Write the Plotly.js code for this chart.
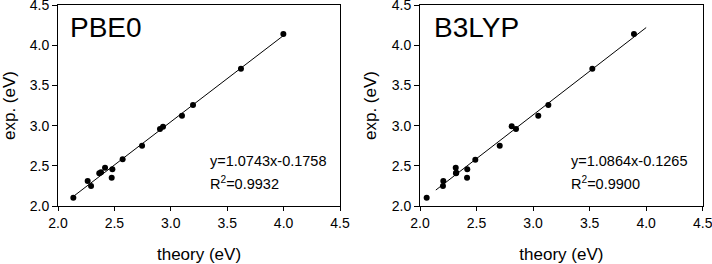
<!DOCTYPE html>
<html>
<head>
<meta charset="utf-8">
<script src="https://cdn.plot.ly/plotly-3.0.1.min.js"></script>
<style>html,body{margin:0;padding:0;background:#fff}#chart{width:712px;height:264px}</style>
</head>
<body>
<div id="chart"></div>
<script>
// Data
const expValues = [2.103, 2.311, 2.249, 2.406, 2.419, 2.476, 2.456, 2.352, 2.581, 2.750, 2.958, 2.986, 3.123, 3.256, 3.708, 4.139];
const pbe0Theory = [2.136, 2.263, 2.293, 2.366, 2.381, 2.417, 2.482, 2.476, 2.573, 2.745, 2.904, 2.931, 3.099, 3.197, 3.622, 3.998];
const b3lypExp = [2.103, 2.249, 2.311, 2.476, 2.414, 2.406, 2.456, 2.352, 2.576, 2.750, 2.991, 2.958, 3.123, 3.256, 3.708, 4.139];
const b3lypTheory = [2.059, 2.203, 2.206, 2.316, 2.321, 2.318, 2.418, 2.416, 2.489, 2.705, 2.811, 2.849, 3.046, 3.135, 3.524, 3.892];

const panelNames = ["PBE0", "B3LYP"];
const fitSlope = [1.0743, 1.0864];
const fitIntercept = [-0.1758, -0.1265];
const fitR2 = ["0.9932", "0.9900"];
const fitRange = [[2.136, 4.0], [2.14, 4.0]];
const tickVals = [2.0, 2.5, 3.0, 3.5, 4.0, 4.5];
const tickText = ["2.0", "2.5", "3.0", "3.5", "4.0", "4.5"];

const FONT = "Liberation Sans, Arial, sans-serif";
const theoryArr = [pbe0Theory, b3lypTheory];
const expArr = [expValues, b3lypExp];

const traces = [];
const annotations = [];
for (let i = 0; i < 2; i++) {
  const xa = i === 0 ? "x" : "x2";
  const ya = i === 0 ? "y" : "y2";
  const lx = fitRange[i];
  const ly = lx.map(v => fitSlope[i] * v + fitIntercept[i]);
  traces.push({x: lx, y: ly, xaxis: xa, yaxis: ya, mode: "lines", type: "scatter",
    line: {color: "#000", width: 1}, hoverinfo: "skip", showlegend: false});
  traces.push({x: theoryArr[i], y: expArr[i], xaxis: xa, yaxis: ya, mode: "markers", type: "scatter",
    marker: {color: "#000", size: 6}, showlegend: false});
  annotations.push({xref: xa, yref: ya, x: i === 0 ? 2.086 : 2.103, y: 4.22, xanchor: "left", yanchor: "middle",
    text: panelNames[i], showarrow: false, font: {family: FONT, size: 28, color: "#000"}});
  const sign = fitIntercept[i] < 0 ? "-" : "+";
  annotations.push({xref: xa, yref: ya, x: i === 0 ? 3.327 : 3.317, y: 2.56, xanchor: "left", yanchor: "middle",
    text: "y=" + fitSlope[i].toFixed(4) + "x" + sign + Math.abs(fitIntercept[i]).toFixed(4), showarrow: false,
    font: {family: FONT, size: 14.5, color: "#000"}});
  annotations.push({xref: xa, yref: ya, x: i === 0 ? 3.327 : 3.317, y: 2.28, xanchor: "left", yanchor: "middle",
    text: "R<sup>2</sup>=" + fitR2[i], showarrow: false,
    font: {family: FONT, size: 14.5, color: "#000"}});
}

function xAxis(domain, anchor) {
  return {domain: domain, anchor: anchor, range: [2.0, 4.5], tickvals: tickVals, ticktext: tickText,
    showgrid: false, zeroline: false, showline: true, linecolor: "#000", linewidth: 1, mirror: true,
    ticks: "outside", ticklen: 4, tickcolor: "#000", tickwidth: 1, ticklabeloverflow: "allow",
    tickfont: {family: FONT, size: 14, color: "#000"},
    title: {text: "theory (eV)", font: {family: FONT, size: 17, color: "#000"}, standoff: 20},
    automargin: false};
}
function yAxis(domain, anchor) {
  return {domain: domain, anchor: anchor, range: [2.0, 4.5], tickvals: tickVals, ticktext: tickText,
    showgrid: false, zeroline: false, showline: true, linecolor: "#000", linewidth: 1, mirror: true,
    ticks: "outside", ticklen: 5, tickcolor: "#000", tickwidth: 1, ticklabeloverflow: "allow",
    tickfont: {family: FONT, size: 14, color: "#000"},
    title: {text: "exp. (eV)", font: {family: FONT, size: 17, color: "#000"}, standoff: 10},
    automargin: false};
}

const yDom = [(264 - 206) / 264, (264 - 5) / 264];
const layout = {
  width: 712, height: 264,
  margin: {l: 0, r: 0, t: 0, b: 0},
  paper_bgcolor: "#fff", plot_bgcolor: "#fff",
  showlegend: false,
  xaxis: xAxis([58 / 712, 340 / 712], "y"),
  yaxis: yAxis(yDom, "x"),
  xaxis2: xAxis([420 / 712, 702.7 / 712], "y2"),
  yaxis2: yAxis(yDom, "x2"),
  annotations: annotations
};
Plotly.newPlot("chart", traces, layout, {displayModeBar: false, staticPlot: true});
</script>
</body>
</html>
